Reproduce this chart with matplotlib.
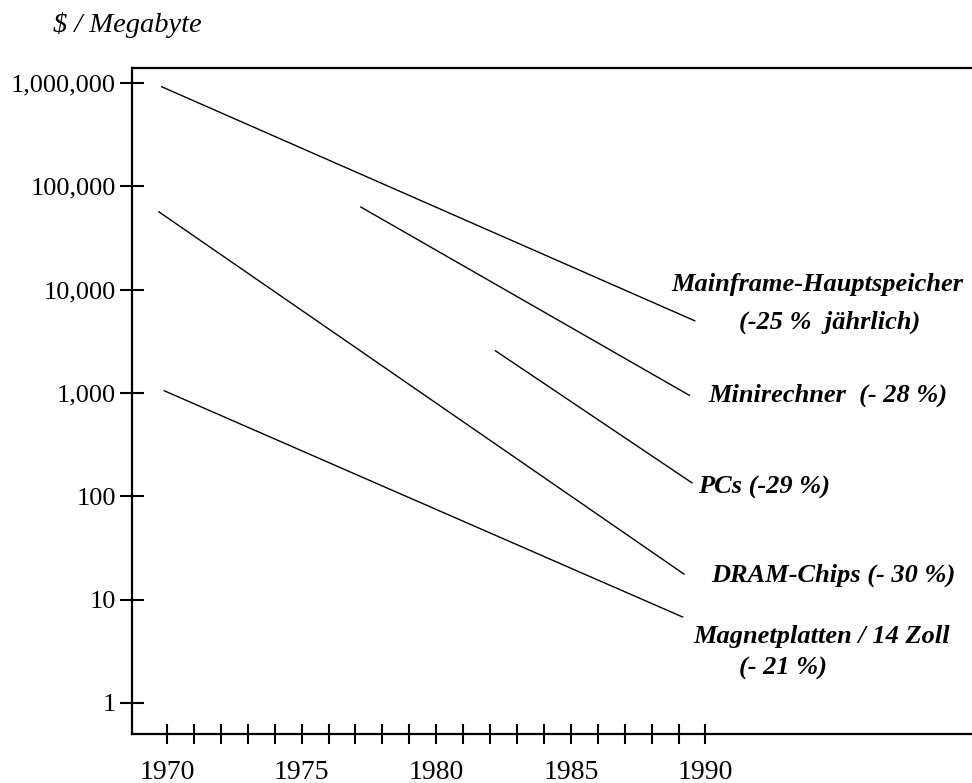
import numpy as np
from matplotlib import pyplot as plt
from matplotlib.ticker import FixedLocator, StrMethodFormatter

plt.rcParams['font.family'] = ['Liberation Serif', 'DejaVu Serif']

# start / end of each trend line (year, $ per megabyte)
mainframe_x = [1969.8, 1989.6]
mainframe_y = [920000, 5000]
mini_x = [1977.2, 1989.4]
mini_y = [63000, 950]
dram_x = [1969.7, 1989.2]
dram_y = [56600, 17.7]
pc_x = [1982.2, 1989.5]
pc_y = [2560, 135]
disk_x = [1969.9, 1989.15]
disk_y = [1050, 6.8]

years = list(range(1970, 1991))
year_labels = ['1970', '1975', '1980', '1985', '1990']
y_ticks = [1, 10, 100, 1000, 10000, 100000, 1000000]

fig = plt.figure(figsize=(9.72, 7.83), dpi=100)
ax = fig.add_axes([132/972, 1 - 734/783, 1 - 132/972, (734 - 68)/783])

for xs, ys in [(mainframe_x, mainframe_y), (mini_x, mini_y), (dram_x, dram_y),
               (pc_x, pc_y), (disk_x, disk_y)]:
    ax.plot(xs, ys, color='black', linewidth=1.0)

ax.set_yscale('log')
ax.set_xlim(1968.7, 1999.9)
ax.set_ylim(10**-0.30, 10**6.145)

ax.yaxis.set_major_locator(FixedLocator(y_ticks))
ax.yaxis.set_major_formatter(StrMethodFormatter('{x:,.0f}'))
ax.yaxis.set_minor_locator(FixedLocator([]))
ax.set_xticks(years)
ax.set_xticklabels([str(y) if str(y) in year_labels else '' for y in years])

ax.tick_params(axis='y', direction='inout', length=17, width=1.5, pad=3, labelsize=19)
ax.tick_params(axis='x', direction='inout', length=15, width=1.5, pad=11, labelsize=20)

ax.spines['right'].set_visible(False)
for s in ['left', 'top', 'bottom']:
    ax.spines[s].set_linewidth(1.6)

fig.text(53/972, 1 - 25/783, '$ / Megabyte', fontsize=20.5, style='italic',
         ha='left', va='center')

lab = dict(fontsize=19, style='italic', weight='bold', ha='center', va='center')
fig.text(817/972, 1 - 285/783, 'Mainframe-Hauptspeicher', **lab)
fig.text(830/972, 1 - 322/783, '(-25 %  jährlich)', **lab)
fig.text(828/972, 1 - 395/783, 'Minirechner  (- 28 %)', **lab)
fig.text(764/972, 1 - 487/783, 'PCs (-29 %)', **lab)
fig.text(833/972, 1 - 575/783, 'DRAM-Chips (- 30 %)', **lab)
fig.text(822/972, 1 - 637/783, 'Magnetplatten / 14 Zoll', **lab)
fig.text(783/972, 1 - 668/783, '(- 21 %)', **lab)

fig.savefig('out.png', dpi=100)
